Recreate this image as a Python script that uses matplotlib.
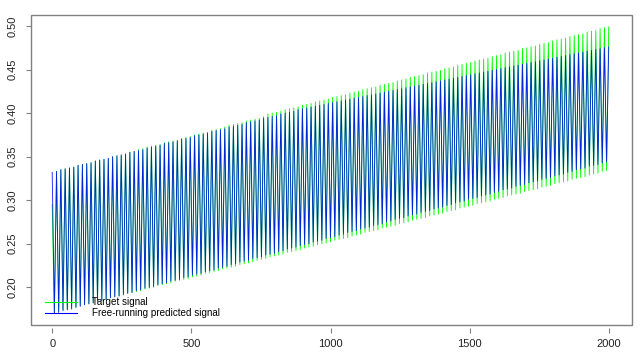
import numpy as np
import matplotlib
matplotlib.use('Agg')
import matplotlib.pyplot as plt
from matplotlib.patches import Rectangle

plt.rcParams['font.family'] = ['Liberation Sans', 'DejaVu Sans']

# one peak and one trough per cycle
PERIOD = 15.5

target_peaks = [
    .295, .333, .335, .336, .337, .338, .340, .341, .342, .343,
    .345, .346, .347, .348, .350, .351, .352, .353, .355, .356,
    .358, .359, .361, .362, .363, .364, .366, .367, .368, .369,
    .371, .372, .373, .375, .376, .377, .378, .380, .381, .382,
    .384, .386, .387, .388, .389, .391, .392, .393, .394, .396,
    .399, .400, .401, .402, .404, .405, .406, .407, .409, .410,
    .411, .413, .414, .415, .416, .418, .419, .420, .421, .423,
    .424, .425, .427, .428, .429, .430, .432, .433, .434, .435,
    .437, .438, .439, .441, .442, .443, .444, .446, .447, .448,
    .449, .451, .452, .453, .455, .456, .457, .458, .460, .461,
    .462, .463, .465, .466, .467, .469, .470, .471, .472, .474,
    .475, .476, .477, .479, .480, .481, .483, .484, .485, .486,
    .488, .489, .490, .491, .493, .494, .495, .497, .498, .499,
]
target_troughs = [
    .171, .172, .174, .175, .176, .177, .179, .180, .181, .182,
    .184, .185, .186, .188, .189, .190, .191, .193, .194, .195,
    .196, .198, .199, .200, .202, .203, .204, .205, .207, .208,
    .209, .210, .212, .213, .214, .216, .217, .218, .219, .221,
    .222, .223, .224, .226, .227, .228, .229, .231, .232, .233,
    .235, .236, .237, .238, .240, .241, .242, .243, .245, .246,
    .247, .249, .250, .251, .252, .254, .255, .256, .257, .259,
    .260, .261, .263, .264, .265, .266, .268, .269, .270, .271,
    .273, .274, .275, .277, .278, .279, .280, .282, .283, .284,
    .285, .287, .288, .289, .291, .292, .293, .294, .296, .297,
    .298, .299, .301, .302, .303, .305, .306, .307, .308, .310,
    .311, .312, .313, .315, .316, .317, .319, .320, .321, .322,
    .324, .325, .326, .327, .329, .330, .331, .333, .334,
]
pred_peaks = [
    .332, .333, .335, .336, .337, .338, .340, .341, .342, .343,
    .345, .346, .347, .348, .350, .351, .352, .353, .355, .356,
    .357, .358, .360, .361, .362, .363, .365, .366, .367, .368,
    .370, .371, .372, .374, .375, .376, .377, .379, .380, .381,
    .382, .384, .385, .386, .387, .389, .390, .391, .392, .394,
    .395, .396, .397, .399, .400, .401, .402, .404, .405, .406,
    .407, .408, .409, .410, .411, .412, .413, .414, .415, .416,
    .417, .418, .419, .420, .421, .422, .423, .424, .425, .426,
    .427, .428, .429, .430, .431, .432, .433, .434, .435, .436,
    .437, .438, .439, .440, .441, .442, .443, .444, .445, .446,
    .447, .448, .449, .450, .451, .452, .453, .454, .455, .456,
    .457, .458, .459, .460, .461, .462, .463, .464, .465, .466,
    .467, .468, .469, .470, .471, .472, .473, .474, .475, .476,
]
pred_troughs = [
    .170, .171, .173, .174, .175, .177, .178, .180, .181, .182,
    .184, .185, .186, .188, .189, .190, .192, .193, .194, .196,
    .197, .199, .200, .201, .203, .204, .205, .207, .208, .209,
    .211, .212, .214, .215, .216, .218, .219, .220, .222, .223,
    .224, .226, .227, .229, .230, .231, .233, .234, .235, .237,
    .238, .239, .241, .242, .244, .245, .246, .248, .249, .250,
    .252, .253, .254, .256, .257, .258, .260, .261, .263, .264,
    .265, .267, .268, .269, .271, .272, .273, .275, .276, .278,
    .279, .280, .282, .283, .284, .286, .287, .288, .290, .291,
    .292, .294, .295, .297, .298, .299, .301, .302, .303, .305,
    .306, .307, .309, .310, .312, .313, .314, .316, .317, .318,
    .320, .321, .322, .324, .325, .326, .328, .329, .330, .332,
    .333, .335, .336, .337, .339, .340, .341, .343, .344,
]

labels = ['Target signal', 'Free-running predicted signal']
colors = ['#00ff00', '#0000ff']
x_ticks = [0, 500, 1000, 1500, 2000]
y_ticks = [0.20, 0.25, 0.30, 0.35, 0.40, 0.45, 0.50]


def zigzag(peaks, troughs):
    n = len(peaks) + len(troughs)
    x = np.arange(n) * PERIOD / 2
    y = np.empty(n)
    y[0::2] = peaks
    y[1::2] = troughs
    return x, y


fig = plt.figure(figsize=(6.44, 3.6), dpi=100)
ax = fig.add_axes([30.5 / 644, 35 / 360, 601.2 / 644, 310 / 360])

xt, yt = zigzag(target_peaks, target_troughs)
xp, yp = zigzag(pred_peaks, pred_troughs)
ax.plot(xt, yt, color=colors[0], lw=0.65, label=labels[0])
ax.plot(xp, yp, color=colors[1], lw=0.65, alpha=0.85, label=labels[1])

ax.set_xlim(-78, 2082)
ax.set_ylim(0.1567, 0.5126)

for s in ax.spines.values():
    s.set_visible(False)
ax.spines['bottom'].set_position(('outward', 2.2))
ax.add_patch(Rectangle((0, 0), 1, 1, transform=ax.transAxes, fill=False,
                       edgecolor='#808080', lw=1, clip_on=False, zorder=5))

ax.set_xticks(x_ticks)
ax.set_xticklabels([str(v) for v in x_ticks])
ax.set_yticks(y_ticks)
ax.set_yticklabels([f'{v:.2f}' for v in y_ticks])
ax.tick_params(axis='x', length=3.6, width=0.8, color='#808080', pad=4.5,
               labelsize=8, labelcolor='#222222')
ax.tick_params(axis='y', length=3.6, width=0.8, color='#808080', pad=5.6,
               labelsize=8, labelcolor='#222222')
plt.setp(ax.get_yticklabels(), rotation=90, va='center')

leg = ax.legend(loc='upper left', bbox_to_anchor=((45 - 30.5) / 601.2, (325 - 297) / 310),
                frameon=False, fontsize=7.1, handlelength=3.2, handletextpad=1.6,
                labelspacing=0.15, borderpad=0, borderaxespad=0)
for h in leg.get_lines():
    h.set_linewidth(0.8)
    h.set_alpha(1)

fig.savefig('out.png', dpi=100)
